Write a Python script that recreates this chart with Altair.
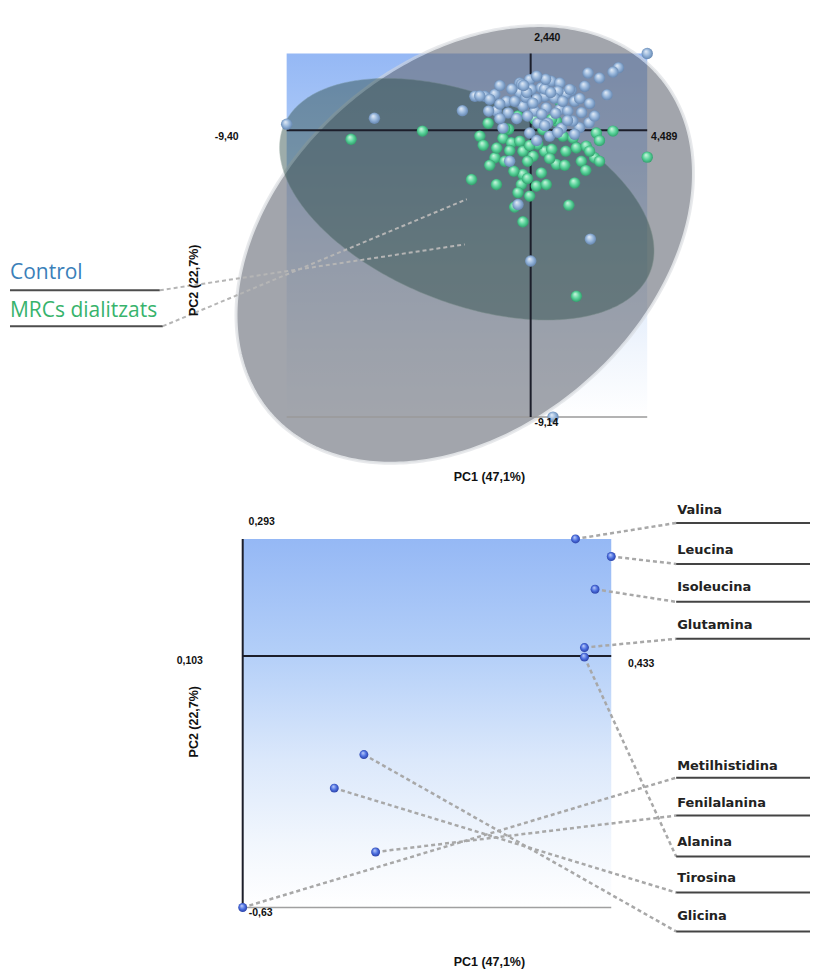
import altair as alt
import numpy as np
import pandas as pd

# ---------------- Score plot (PC1 / PC2 scores) ----------------
control_pc1 = [4.49, -9.40, -6.02, -2.63, 3.38, 3.17, 2.21, 2.65, 2.08, 2.94, 1.56, 1.96, 2.25, 1.88,
               -0.42, -0.04, 0.79, 1.12, 1.35, -1.77, -1.38, -0.93, -0.42, 0.03, 0.41, 0.54, 1.05, 1.50,
               -1.32, -0.87, -0.30, 0.15, 0.60, 1.12, 1.43, -1.07, -0.04, 0.73, -0.81, 0.28, -2.15, -1.58,
               -1.96, -0.35, 0.54, 1.69, 2.30, 0.00, 0.86, -0.49, -0.62, -0.19, 0.23, 0.92, -0.73, -1.19,
               -0.12, 0.42, 0.96, 1.62, 1.19, 0.65, 0.08, 1.23, 0.58, 0.23, -1.62, 1.69, 2.46,
               -1.19, -0.15, 0.77, 1.89, -0.54, 0.54, 1.04, 2.27, -1.19, 0.23, 1.42, -0.27]
control_pc2 = [2.44, 0.19, 0.38, 0.62, 1.99, 1.85, 1.82, 1.66, 1.40, 1.13, 1.27, 0.56, 0.24, 0.08,
               1.50, 1.61, 1.56, 1.50, 1.15, 1.08, 1.14, 0.92, 1.19, 1.30, 1.35, 1.08, 1.24, 1.30,
               0.61, 0.55, 0.76, 0.61, 0.71, 0.66, 0.61, 0.07, -0.09, -0.19, -0.99, 0.23, 1.08, 0.98,
               1.09, 1.46, 1.31, 0.92, -3.47, -4.17, -9.14, -2.37, 0.92, 1.05, 0.99, 1.02, 1.31, 0.83,
               0.45, 0.51, 0.54, 0.29, 0.06, 0.22, 0.86, 0.92, 1.62, 1.72, 0.61, -0.13, 0.45,
               1.42, 1.20, 1.20, 1.01, 0.37, 0.15, -0.07, 0.85, 0.37, -0.33, 0.31, 1.42]

mrc_pc1 = [-6.92, -4.17, -1.64, -1.96, -1.83, -1.38, -1.07, -0.74, -0.42, -0.30, 0.09, 0.47, 0.54,
           0.99, 1.24, 1.63, 1.76, 2.14, 1.95, 2.46, 2.53, 3.17, 4.49, 0.99, 0.41, -0.30, -0.36, 0.22,
           0.60, 1.69, -1.32, -2.28, -0.49, -0.62, 1.47, -0.30, 1.76, -1.00, -0.49, 0.81, 1.12, -0.12,
           0.27, 0.81, 1.35, -0.65, -0.04, -0.85, 0.15, 2.27, 2.65, -1.31,
           -0.81, -0.04, 0.73, 1.31, -0.12, 2.12, -1.00, -1.58, 2.65]
mrc_pc2 = [-0.29, -0.03, 0.22, -0.19, -0.48, -0.88, -0.26, -0.40, -0.35, -0.67, -0.83, 0.02, -0.67,
           0.29, -0.19, -0.25, -0.56, -0.51, -0.99, -0.88, -0.09, -0.03, -0.86, -1.09, -1.36, -1.41,
           -1.73, -1.78, -1.73, -1.68, -1.73, -1.57, -1.99, -2.45, -2.39, -2.92, -5.29, -0.99, 0.45,
           0.35, 0.92, -0.99, -0.45, -0.61, -0.67, -1.31, -2.10, 0.03, 0.35, -0.67, -0.99, -0.57,
           -0.65, -0.49, -0.90, -1.12, -1.54, -1.28, 0.05, -1.12, -0.33]

score_pc1_limits = [-9.40, 4.489]
score_pc2_limits = [-9.14, 2.440]
score_limit_labels = ["-9,40", "4,489", "-9,14", "2,440"]

group_names = ["Control", "MRCs dialitzats"]
# confidence ellipses: centre and two conjugate semi-diameters, in score units
ellipse_c_pc1 = [-2.54, -2.46]
ellipse_c_pc2 = [-3.64, -2.20]
ellipse_a_pc1 = [7.49, 7.06]
ellipse_a_pc2 = [5.39, -2.32]
ellipse_b_pc1 = [-4.64, 1.47]
ellipse_b_pc2 = [4.42, 3.07]

# ---------------- Loading plot ----------------
loading_names = ["Valina", "Leucina", "Isoleucina", "Glutamina", "Alanina",
                 "Glicina", "Tirosina", "Fenilalanina", "Metilhistidina"]
loading_pc1 = [0.401, 0.433, 0.4185, 0.409, 0.409, 0.2115, 0.185, 0.222, 0.103]
loading_pc2 = [0.293, 0.249, 0.167, 0.021, -0.003, -0.247, -0.331, -0.491, -0.630]
loading_pc1_limits = [0.103, 0.433]
loading_pc2_limits = [-0.63, 0.293]
loading_limit_labels = ["0,103", "0,433", "-0,63", "0,293"]
label_order = ["Valina", "Leucina", "Isoleucina", "Glutamina", "Metilhistidina",
               "Fenilalanina", "Alanina", "Tirosina", "Glicina"]

title_pc1 = "PC1 (47,1%)"
title_pc2 = "PC2 (22,7%)"

# ---------------- layout (page pixels) ----------------
MARGIN = 8
W = 803
H_TOP = 492
H_BOT = 469
TOP_BOX = (287, 648, 53, 417)   # left, right, top, bottom
BOT_BOX = (243, 612, 539, 908)
BOT_LABEL_Y = [510, 550, 587, 625, 766, 803, 842, 878, 917]
BOT_LINE_Y = [523, 564, 602, 639, 778, 816, 857, 893, 932]


def frame(lim_x, lim_y, box, panel_top, panel_h):
    l, r, t, b = box
    sx = (r - l) / (lim_x[1] - lim_x[0])
    sy = (b - t) / (lim_y[1] - lim_y[0])
    xd = [lim_x[0] - (l - MARGIN) / sx, lim_x[1] + (MARGIN + W - r) / sx]
    yd = [lim_y[0] - (panel_top + panel_h - b) / sy, lim_y[1] + (t - panel_top) / sy]
    px = lambda p: lim_x[0] + (p - l) / sx
    py = lambda p: lim_y[1] - (p - t) / sy
    return (alt.Scale(domain=xd, nice=False, zero=False),
            alt.Scale(domain=yd, nice=False, zero=False), px, py)


def sphere(light, base, dark):
    return alt.RadialGradient(
        gradient="radial", x1=0.38, y1=0.3, r1=0.0, x2=0.5, y2=0.5, r2=0.56,
        stops=[alt.GradientStop(offset=0, color=light),
               alt.GradientStop(offset=0.55, color=base),
               alt.GradientStop(offset=1, color=dark)])


def box_gradient():
    return alt.LinearGradient(
        gradient="linear", x1=0, y1=0, x2=0, y2=1,
        stops=[alt.GradientStop(offset=0, color="#95b8f5"),
               alt.GradientStop(offset=0.3, color="#b2cef8"),
               alt.GradientStop(offset=0.6, color="#dbe8fb"),
               alt.GradientStop(offset=0.82, color="#f1f6fd"),
               alt.GradientStop(offset=1, color="#ffffff")])


def ellipse_band(cx, cy, ax, ay, bx, by, n=180):
    R = np.hypot(ax, bx)
    phi = np.arctan2(bx, ax)
    s = np.linspace(0, np.pi, n)
    xs = cx + R * np.cos(s)
    t1, t2 = phi + s, phi - s
    y1 = cy + ay * np.cos(t1) + by * np.sin(t1)
    y2 = cy + ay * np.cos(t2) + by * np.sin(t2)
    return pd.DataFrame({"x": xs, "y": np.minimum(y1, y2), "y2": np.maximum(y1, y2)})


def XY(xs, ys):
    return dict(x=alt.X("x:Q", scale=xs, axis=None), y=alt.Y("y:Q", scale=ys, axis=None))


def seg(xs, ys):
    return dict(x=alt.X("x:Q", scale=xs, axis=None), y=alt.Y("y:Q", scale=ys, axis=None),
                x2="x2:Q", y2="y2:Q")


def texts(df, xs, ys, **kw):
    return alt.Chart(df).mark_text(**kw).encode(text="t:N", **XY(xs, ys))


# ================= TOP PANEL =================
xs1, ys1, px1, py1 = frame(score_pc1_limits, score_pc2_limits, TOP_BOX, MARGIN, H_TOP)
x0, x1 = score_pc1_limits
y0, y1 = score_pc2_limits

top_layers = []
top_layers.append(alt.Chart(pd.DataFrame({"x": [x0], "x2": [x1], "y": [y0], "y2": [y1]}))
                  .mark_rect(color=box_gradient()).encode(**seg(xs1, ys1)))

ell_style = [dict(color="#6a6f7a", opacity=0.62, stroke="#d6d9de", strokeWidth=3, strokeOpacity=0.9),
             dict(color="#2c4c48", opacity=0.46, stroke="#5d7b6a", strokeWidth=1, strokeOpacity=0.5)]
for i in range(2):
    band = ellipse_band(ellipse_c_pc1[i], ellipse_c_pc2[i], ellipse_a_pc1[i], ellipse_a_pc2[i],
                        ellipse_b_pc1[i], ellipse_b_pc2[i])
    top_layers.append(alt.Chart(band).mark_area(**ell_style[i]).encode(
        x=alt.X("x:Q", scale=xs1, axis=None), y=alt.Y("y:Q", scale=ys1, axis=None), y2="y2:Q"))

# bottom grey frame line
top_layers.append(alt.Chart(pd.DataFrame({"x": [x0], "x2": [x1], "y": [y0], "y2": [y0]}))
                  .mark_rule(color="#9a9a9a", strokeWidth=1.5).encode(**seg(xs1, ys1)))
# axes through origin
top_layers.append(alt.Chart(pd.DataFrame({"x": [0, x0], "x2": [0, x1], "y": [y0, 0], "y2": [y1, 0]}))
                  .mark_rule(color="#1c1e2a", strokeWidth=2).encode(**seg(xs1, ys1)))

# legend underlines and connectors
leg_df = pd.DataFrame({"x": [px1(10), px1(10)], "x2": [px1(160), px1(163)],
                       "y": [py1(290), py1(326)], "y2": [py1(290), py1(326)]})
top_layers.append(alt.Chart(leg_df).mark_rule(color="#4d4d4d", strokeWidth=2).encode(**seg(xs1, ys1)))
con_df = pd.DataFrame({"x": [px1(160), px1(163)], "y": [py1(290), py1(326)],
                       "x2": ellipse_c_pc1, "y2": ellipse_c_pc2})
top_layers.append(alt.Chart(con_df).mark_rule(color="#b5b5b5", strokeWidth=2, strokeDash=[4, 3])
                  .encode(**seg(xs1, ys1)))

# score points
mrc_df = pd.DataFrame({"x": mrc_pc1, "y": mrc_pc2})
ctl_df = pd.DataFrame({"x": control_pc1, "y": control_pc2})
top_layers.append(alt.Chart(mrc_df).mark_circle(size=130, opacity=1,
                  color=sphere("#d2f7e2", "#58d39a", "#2a9563")).encode(**XY(xs1, ys1)))
top_layers.append(alt.Chart(ctl_df).mark_circle(size=130, opacity=1,
                  color=sphere("#e6eef8", "#93b3d9", "#5d7ea8")).encode(**XY(xs1, ys1)))

# limit labels
lim_df = pd.DataFrame({"x": [px1(227), px1(665), px1(547), px1(548)],
                       "y": [py1(137), py1(137), py1(423), py1(37)],
                       "t": score_limit_labels})
top_layers.append(texts(lim_df, xs1, ys1, font="Liberation Sans", fontSize=10.5, fontWeight="bold",
                        color="#111111", align="center", baseline="middle"))
top_layers.append(texts(pd.DataFrame({"x": [px1(490)], "y": [py1(477)], "t": [title_pc1]}), xs1, ys1,
                        font="Liberation Sans", fontSize=12.5, fontWeight="bold", color="#111111",
                        align="center", baseline="middle"))
top_layers.append(texts(pd.DataFrame({"x": [px1(194)], "y": [py1(280)], "t": [title_pc2]}), xs1, ys1,
                        font="Liberation Sans", fontSize=12.5, fontWeight="bold", color="#111111",
                        align="center", baseline="middle", angle=270))
legend_colors = ["#3a80b9", "#37b36c"]
for i, g in enumerate(group_names):
    top_layers.append(texts(pd.DataFrame({"x": [px1(10)], "y": [py1([279, 317][i])], "t": [g]}), xs1, ys1,
                            font="Open Sans", fontSize=21, color=legend_colors[i],
                            align="left", baseline="alphabetic"))

top = alt.layer(*top_layers).properties(width=W, height=H_TOP)

# ================= BOTTOM PANEL =================
xs2, ys2, px2, py2 = frame(loading_pc1_limits, loading_pc2_limits, BOT_BOX, MARGIN + H_TOP, H_BOT)
u0, u1 = loading_pc1_limits
v0, v1 = loading_pc2_limits

bot_layers = []
bot_layers.append(alt.Chart(pd.DataFrame({"x": [u0], "x2": [u1], "y": [v0], "y2": [v1]}))
                  .mark_rect(color=box_gradient()).encode(**seg(xs2, ys2)))
bot_layers.append(alt.Chart(pd.DataFrame({"x": [u0], "x2": [u1], "y": [v0], "y2": [v0]}))
                  .mark_rule(color="#a0a0a0", strokeWidth=1.5).encode(**seg(xs2, ys2)))
bot_layers.append(alt.Chart(pd.DataFrame({"x": [u0, u0], "x2": [u0, u1], "y": [v0, 0], "y2": [v1, 0]}))
                  .mark_rule(color="#1c1e2a", strokeWidth=2).encode(**seg(xs2, ys2)))

ld = pd.DataFrame({"name": loading_names, "x": loading_pc1, "y": loading_pc2})
order_idx = {n: i for i, n in enumerate(label_order)}
ld["x2"] = px2(677)
ld["y2"] = [py2(BOT_LINE_Y[order_idx[n]]) for n in loading_names]
bot_layers.append(alt.Chart(ld).mark_rule(color="#a8a8a8", strokeWidth=2.5, strokeDash=[4, 3])
                  .encode(**seg(xs2, ys2)))
ul = pd.DataFrame({"x": [px2(677)] * len(label_order), "x2": [px2(811)] * len(label_order),
                   "y": [py2(v) for v in BOT_LINE_Y], "y2": [py2(v) for v in BOT_LINE_Y]})
bot_layers.append(alt.Chart(ul).mark_rule(color="#444444", strokeWidth=2).encode(**seg(xs2, ys2)))
bot_layers.append(alt.Chart(ld).mark_circle(size=80, opacity=1,
                  color=sphere("#c4d2fb", "#4a6ee0", "#27399a")).encode(**XY(xs2, ys2)))

names_df = pd.DataFrame({"x": [px2(678)] * len(label_order),
                         "y": [py2(v) for v in BOT_LABEL_Y], "t": label_order})
bot_layers.append(texts(names_df, xs2, ys2, font="DejaVu Sans", fontSize=13, fontWeight="bold",
                        color="#222222", align="left", baseline="middle"))
lim2 = pd.DataFrame({"x": [px2(190), px2(642), px2(261), px2(262)],
                     "y": [py2(661), py2(664), py2(914), py2(522)],
                     "t": loading_limit_labels})
bot_layers.append(texts(lim2, xs2, ys2, font="Liberation Sans", fontSize=10.5, fontWeight="bold",
                        color="#111111", align="center", baseline="middle"))
bot_layers.append(texts(pd.DataFrame({"x": [px2(490)], "y": [py2(963)], "t": [title_pc1]}), xs2, ys2,
                        font="Liberation Sans", fontSize=12.5, fontWeight="bold", color="#111111",
                        align="center", baseline="middle"))
bot_layers.append(texts(pd.DataFrame({"x": [px2(194)], "y": [py2(722)], "t": [title_pc2]}), xs2, ys2,
                        font="Liberation Sans", fontSize=12.5, fontWeight="bold", color="#111111",
                        align="center", baseline="middle", angle=270))

bottom = alt.layer(*bot_layers).properties(width=W, height=H_BOT)

chart = (alt.vconcat(top, bottom, spacing=0)
         .properties(padding=0, background="white")
         .configure_view(strokeWidth=0))

chart.save("out.html", embed_options={"renderer": "svg", "actions": False})
